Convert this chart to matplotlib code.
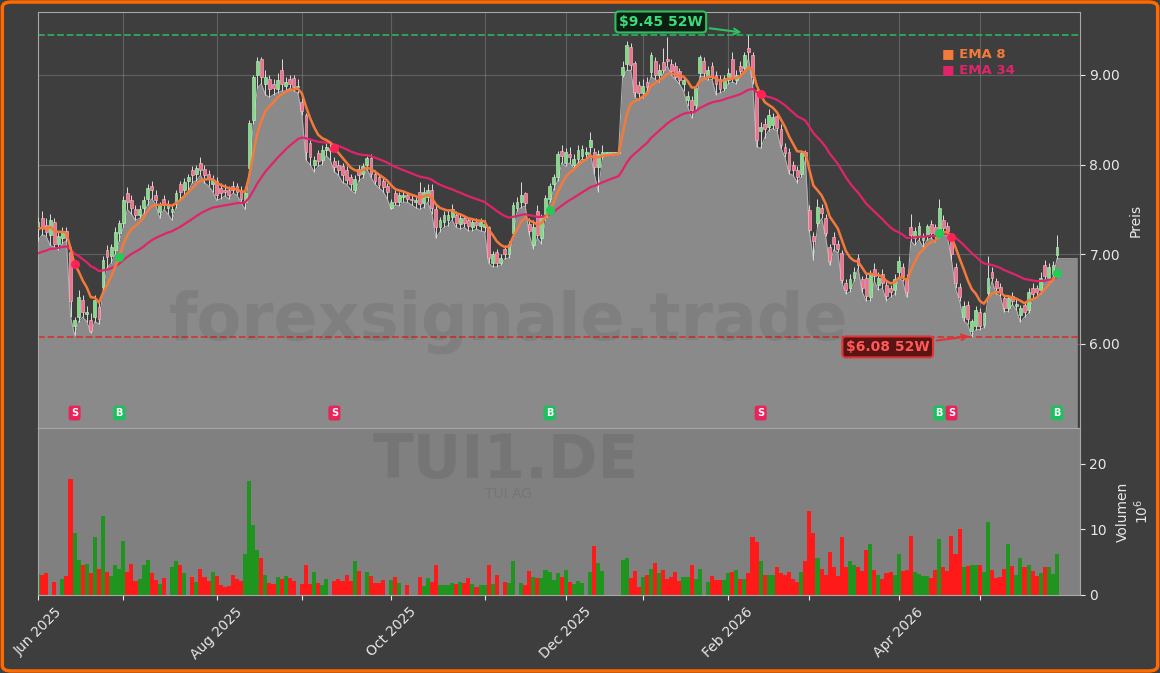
import numpy as np
import matplotlib
matplotlib.use('Agg')
import matplotlib.pyplot as plt
from matplotlib.patches import FancyBboxPatch

# TUI1.DE daily candles, Jun 2025 - May 2026 (bar index = trading day)
opens = [7.28, 7.40, 7.33, 7.22, 7.36, 7.12, 7.18, 7.26, 7.02, 6.20,
         6.30, 6.49, 6.33, 6.27, 6.30, 6.41, 6.64, 7.05, 6.98, 7.05,
         7.24, 7.35, 7.68, 7.60, 7.50, 7.44, 7.52, 7.62, 7.76, 7.66,
         7.47, 7.62, 7.52, 7.47, 7.58, 7.78, 7.72, 7.82, 7.94, 7.90,
         8.02, 7.95, 7.90, 7.78, 7.82, 7.74, 7.72, 7.72, 7.76, 7.76,
         7.72, 7.58, 7.96, 8.50, 9.00, 9.18, 8.90, 8.95, 8.90, 8.84,
         9.05, 8.88, 8.95, 8.97, 8.86, 8.70, 8.55, 8.24, 8.00, 8.13,
         8.05, 8.16, 8.18, 8.04, 8.00, 7.98, 7.94, 7.86, 7.72, 7.95,
         7.90, 8.00, 8.07, 7.90, 7.86, 7.82, 7.76, 7.52, 7.68, 7.58,
         7.64, 7.66, 7.62, 7.58, 7.70, 7.57, 7.64, 7.72, 7.50, 7.30,
         7.36, 7.38, 7.42, 7.44, 7.34, 7.40, 7.38, 7.30, 7.36, 7.32,
         7.30, 7.30, 6.90, 7.02, 6.90, 7.06, 7.00, 7.24, 7.52, 7.58,
         7.68, 7.34, 7.10, 7.48, 7.18, 7.42, 7.62, 7.78, 7.86, 8.15,
         8.02, 8.12, 8.00, 8.06, 8.10, 8.12, 8.20, 8.14, 7.97, 8.10,
         8.13, 8.13, 8.13, 8.13, 9.00, 9.12, 9.31, 9.13, 8.89, 8.80,
         8.92, 9.03, 9.15, 9.00, 9.14, 9.18, 9.12, 9.10, 9.04, 8.90,
         8.72, 8.72, 8.66, 9.02, 9.16, 8.98, 9.10, 9.00, 8.95, 8.85,
         8.94, 9.18, 8.94, 9.10, 9.08, 9.30, 9.22, 8.83, 8.38, 8.45,
         8.42, 8.44, 8.54, 8.40, 8.20, 8.14, 8.00, 7.94, 7.90, 8.14,
         7.49, 7.20, 7.35, 7.52, 7.40, 7.08, 7.19, 7.12, 7.01, 6.68,
         6.62, 6.74, 6.96, 6.72, 6.74, 6.52, 6.84, 6.66, 6.78, 6.66,
         6.62, 6.60, 6.80, 6.86, 6.74, 7.30, 7.18, 7.22, 7.16, 7.22,
         7.34, 7.30, 7.24, 7.38, 7.32, 7.20, 6.86, 6.64, 6.30, 6.44,
         6.14, 6.20, 6.36, 6.21, 6.57, 6.80, 6.70, 6.64, 6.51, 6.40,
         6.54, 6.42, 6.32, 6.44, 6.38, 6.62, 6.62, 6.60, 6.88, 6.74,
         6.78, 6.99]
highs = [7.42, 7.48, 7.40, 7.45, 7.40, 7.25, 7.30, 7.30, 7.08, 6.30,
         6.60, 6.55, 6.42, 6.35, 6.55, 6.48, 6.98, 7.10, 7.12, 7.30,
         7.38, 7.65, 7.75, 7.66, 7.55, 7.55, 7.65, 7.78, 7.82, 7.72,
         7.58, 7.66, 7.60, 7.55, 7.72, 7.82, 7.85, 7.90, 7.98, 8.00,
         8.08, 8.00, 7.94, 7.88, 7.86, 7.80, 7.78, 7.76, 7.82, 7.80,
         7.76, 7.72, 8.50, 9.00, 9.20, 9.20, 9.05, 9.00, 8.95, 9.02,
         9.18, 8.98, 9.00, 9.00, 8.95, 8.75, 8.58, 8.28, 8.10, 8.16,
         8.22, 8.24, 8.25, 8.08, 8.05, 8.02, 7.98, 7.90, 7.88, 8.00,
         8.02, 8.10, 8.12, 7.94, 7.90, 7.85, 7.80, 7.62, 7.72, 7.70,
         7.72, 7.70, 7.66, 7.64, 7.81, 7.75, 7.78, 7.78, 7.55, 7.42,
         7.48, 7.50, 7.56, 7.48, 7.45, 7.44, 7.42, 7.40, 7.40, 7.40,
         7.38, 7.32, 7.04, 7.06, 7.00, 7.10, 7.15, 7.58, 7.64, 7.81,
         7.70, 7.40, 7.38, 7.55, 7.45, 7.66, 7.80, 7.90, 8.15, 8.22,
         8.18, 8.20, 8.12, 8.22, 8.22, 8.20, 8.36, 8.18, 8.16, 8.22,
         8.13, 8.13, 8.13, 8.13, 9.15, 9.38, 9.36, 9.16, 8.93, 8.95,
         8.98, 9.25, 9.20, 9.12, 9.30, 9.42, 9.18, 9.14, 9.08, 8.98,
         8.82, 8.76, 8.88, 9.22, 9.20, 9.10, 9.14, 9.04, 9.00, 9.00,
         9.08, 9.26, 9.05, 9.16, 9.26, 9.45, 9.26, 8.86, 8.48, 8.52,
         8.62, 8.58, 8.58, 8.45, 8.24, 8.18, 8.04, 7.98, 8.16, 8.16,
         7.55, 7.25, 7.62, 7.56, 7.45, 7.12, 7.25, 7.16, 7.05, 6.72,
         6.78, 6.86, 7.00, 6.76, 6.78, 6.82, 6.90, 6.80, 6.84, 6.70,
         6.66, 6.78, 6.98, 6.90, 6.78, 7.45, 7.30, 7.36, 7.24, 7.34,
         7.38, 7.34, 7.62, 7.44, 7.36, 7.24, 6.90, 6.68, 6.48, 6.48,
         6.28, 6.42, 6.40, 6.36, 6.98, 6.86, 6.74, 6.68, 6.55, 6.55,
         6.58, 6.50, 6.44, 6.48, 6.62, 6.68, 6.66, 6.80, 6.94, 6.90,
         6.92, 7.22]
lows = [7.15, 7.22, 7.20, 7.10, 7.08, 7.05, 7.12, 7.15, 6.30, 6.10,
        6.25, 6.30, 6.25, 6.12, 6.25, 6.22, 6.60, 6.85, 6.90, 7.00,
        7.15, 7.30, 7.50, 7.45, 7.38, 7.40, 7.45, 7.55, 7.62, 7.55,
        7.40, 7.50, 7.45, 7.38, 7.52, 7.62, 7.65, 7.70, 7.80, 7.82,
        7.88, 7.80, 7.76, 7.70, 7.60, 7.62, 7.65, 7.62, 7.68, 7.66,
        7.58, 7.50, 7.90, 8.45, 8.85, 8.90, 8.78, 8.75, 8.78, 8.80,
        8.82, 8.82, 8.85, 8.82, 8.80, 8.55, 8.05, 8.00, 7.92, 7.98,
        8.00, 8.10, 8.05, 7.92, 7.88, 7.80, 7.78, 7.72, 7.68, 7.82,
        7.85, 7.95, 7.86, 7.78, 7.74, 7.70, 7.62, 7.50, 7.55, 7.54,
        7.58, 7.58, 7.55, 7.52, 7.50, 7.52, 7.58, 7.45, 7.18, 7.25,
        7.30, 7.32, 7.38, 7.30, 7.28, 7.30, 7.26, 7.26, 7.28, 7.26,
        7.25, 6.90, 6.86, 6.86, 6.88, 6.95, 6.96, 7.20, 7.48, 7.52,
        7.54, 7.22, 7.06, 7.18, 7.12, 7.38, 7.58, 7.72, 7.82, 8.02,
        7.98, 8.02, 7.96, 8.02, 8.06, 8.05, 8.14, 7.90, 7.70, 8.06,
        8.13, 8.13, 8.13, 8.13, 8.98, 9.05, 9.05, 8.75, 8.72, 8.74,
        8.82, 8.98, 8.95, 8.92, 9.02, 9.10, 9.00, 8.95, 8.90, 8.82,
        8.65, 8.52, 8.60, 8.98, 8.98, 8.94, 8.95, 8.78, 8.80, 8.82,
        8.90, 8.92, 8.90, 8.98, 9.04, 9.18, 8.90, 8.20, 8.18, 8.30,
        8.38, 8.40, 8.38, 8.18, 8.08, 7.90, 7.88, 7.80, 7.86, 8.05,
        7.25, 6.94, 7.30, 7.40, 7.20, 6.88, 7.05, 7.02, 6.68, 6.56,
        6.58, 6.70, 6.84, 6.58, 6.48, 6.48, 6.70, 6.60, 6.62, 6.48,
        6.52, 6.55, 6.74, 6.70, 6.52, 7.15, 7.10, 7.16, 7.08, 7.16,
        7.18, 7.14, 7.18, 7.22, 7.20, 6.94, 6.62, 6.48, 6.26, 6.22,
        6.08, 6.16, 6.16, 6.18, 6.52, 6.70, 6.56, 6.54, 6.36, 6.36,
        6.44, 6.38, 6.24, 6.30, 6.34, 6.50, 6.52, 6.56, 6.72, 6.70,
        6.74, 6.95]
closes = [7.36, 7.30, 7.25, 7.38, 7.12, 7.20, 7.26, 7.18, 6.48, 6.27,
          6.52, 6.36, 6.36, 6.14, 6.49, 6.28, 6.94, 6.97, 7.08, 7.25,
          7.35, 7.60, 7.58, 7.52, 7.44, 7.50, 7.60, 7.74, 7.72, 7.60,
          7.55, 7.56, 7.55, 7.50, 7.68, 7.70, 7.81, 7.86, 7.88, 7.96,
          7.94, 7.88, 7.85, 7.84, 7.66, 7.68, 7.70, 7.66, 7.72, 7.70,
          7.62, 7.68, 8.46, 8.98, 9.15, 8.98, 8.98, 8.84, 8.85, 8.94,
          8.90, 8.92, 8.90, 8.86, 8.88, 8.60, 8.14, 8.08, 8.05, 8.04,
          8.16, 8.20, 8.15, 7.97, 7.94, 7.88, 7.83, 7.78, 7.84, 7.88,
          7.98, 8.07, 7.89, 7.82, 7.77, 7.75, 7.70, 7.58, 7.58, 7.66,
          7.66, 7.62, 7.60, 7.60, 7.56, 7.70, 7.72, 7.52, 7.30, 7.38,
          7.44, 7.44, 7.50, 7.35, 7.40, 7.35, 7.32, 7.36, 7.33, 7.36,
          7.34, 6.96, 7.00, 6.90, 6.96, 7.00, 7.12, 7.55, 7.58, 7.66,
          7.57, 7.26, 7.30, 7.22, 7.42, 7.63, 7.76, 7.86, 8.12, 8.10,
          8.14, 8.08, 8.06, 8.16, 8.17, 8.14, 8.27, 7.97, 8.12, 8.14,
          8.13, 8.13, 8.13, 8.13, 9.09, 9.33, 9.11, 8.81, 8.80, 8.88,
          8.86, 9.22, 9.00, 9.06, 9.06, 9.15, 9.04, 8.98, 8.94, 8.94,
          8.76, 8.61, 8.85, 9.20, 9.02, 9.06, 8.98, 8.90, 8.84, 8.96,
          9.02, 8.96, 9.00, 9.04, 9.22, 9.25, 8.98, 8.27, 8.42, 8.40,
          8.55, 8.53, 8.41, 8.22, 8.13, 7.94, 7.94, 7.86, 8.13, 8.10,
          7.27, 7.15, 7.53, 7.46, 7.24, 6.92, 7.12, 7.06, 6.71, 6.60,
          6.72, 6.80, 6.88, 6.62, 6.54, 6.78, 6.76, 6.74, 6.68, 6.54,
          6.58, 6.72, 6.92, 6.76, 6.58, 7.22, 7.26, 7.31, 7.20, 7.31,
          7.24, 7.20, 7.52, 7.29, 7.26, 7.00, 6.68, 6.52, 6.42, 6.28,
          6.26, 6.38, 6.20, 6.34, 6.74, 6.74, 6.62, 6.58, 6.40, 6.51,
          6.48, 6.45, 6.40, 6.36, 6.58, 6.56, 6.58, 6.74, 6.76, 6.86,
          6.88, 7.08]
# volume in millions
volume = [3.2, 3.1, 3.4, 0, 2.0, 0, 2.5, 2.9, 17.6, 9.5,
          5.4, 4.6, 4.7, 3.3, 8.8, 3.9, 12.0, 3.5, 2.9, 4.6,
          4.0, 8.2, 3.5, 4.7, 2.2, 2.5, 4.6, 5.4, 3.4, 2.3,
          1.7, 2.6, 0, 4.3, 5.1, 4.5, 3.4, 0, 2.8, 2.0,
          4.0, 2.8, 2.2, 3.5, 2.9, 1.5, 1.2, 1.4, 3.1, 2.5,
          2.2, 6.3, 17.4, 10.7, 6.8, 5.7, 3.1, 1.8, 1.7, 2.8,
          2.5, 2.9, 2.6, 2.2, 0, 1.7, 4.6, 1.7, 3.5, 1.8,
          1.5, 2.5, 0, 2.2, 2.5, 2.2, 3.1, 2.2, 5.1, 3.6,
          0, 3.5, 2.9, 1.8, 1.9, 2.3, 0, 2.3, 2.8, 1.8,
          0, 1.5, 0, 0, 2.8, 1.4, 2.6, 2.0, 4.6, 1.5,
          1.5, 1.5, 1.8, 1.7, 2.0, 1.8, 2.6, 1.7, 1.2, 1.5,
          1.5, 4.5, 1.7, 3.1, 0, 2.0, 1.8, 5.2, 0, 1.8,
          1.5, 3.6, 2.8, 2.6, 2.6, 3.8, 3.5, 2.3, 3.4, 2.8,
          3.8, 2.0, 1.7, 2.2, 1.8, 0, 3.5, 7.4, 4.9, 3.6,
          0, 0, 0, 0, 5.4, 5.7, 2.6, 3.6, 1.2, 2.8,
          3.1, 4.0, 4.8, 3.4, 3.8, 2.5, 2.8, 3.5, 2.2, 2.8,
          2.8, 4.6, 2.5, 4.0, 0, 2.0, 2.9, 2.3, 2.3, 2.3,
          3.4, 3.5, 3.8, 2.5, 2.5, 3.4, 8.8, 8.0, 5.2, 3.1,
          3.1, 3.1, 4.2, 3.4, 3.1, 3.5, 2.5, 2.0, 3.5, 5.2,
          12.8, 9.5, 5.7, 4.0, 3.1, 6.6, 4.2, 2.9, 8.8, 4.3,
          5.1, 4.6, 4.2, 3.7, 6.9, 7.8, 3.8, 3.1, 2.5, 3.4,
          3.5, 3.1, 6.3, 3.7, 3.8, 8.9, 3.5, 3.2, 2.9, 2.9,
          2.6, 3.8, 8.5, 4.3, 3.7, 8.9, 6.2, 10.0, 4.3, 4.4,
          4.6, 4.6, 4.6, 3.5, 11.1, 3.8, 2.6, 2.7, 4.0, 7.7,
          4.4, 3.1, 5.7, 4.3, 4.6, 3.7, 2.9, 3.4, 4.2, 4.3,
          3.2, 6.2]

# EMA values at the left edge (history before Jun 2025)
ema8_start = 7.27
ema34_start = 6.99

# month ticks (bar index of first trading day)
month_pos = [0, 21, 44, 65, 87, 110, 130, 149, 170, 190, 212, 232]
month_lbl = ['Jun 2025', '', 'Aug 2025', '', 'Oct 2025', '', 'Dec 2025', '',
             'Feb 2026', '', 'Apr 2026', '']

sell_idx = [9, 73, 178, 225]
buy_idx = [20, 126, 222, 251]

high_52w = 9.45
low_52w = 6.08

o = np.array(opens); h = np.array(highs); l = np.array(lows); c = np.array(closes)
v = np.array(volume)
n = len(c)
x = np.arange(n)


def ema(vals, span, start):
    a = 2 / (span + 1)
    out = []
    prev = start
    for val in vals:
        prev = prev + a * (val - prev)
        out.append(prev)
    return np.array(out)


e8 = ema(c, 8, ema8_start)
e34 = ema(c, 34, ema34_start)

bg = '#3e3e3e'
fig = plt.figure(figsize=(11.6, 6.73), dpi=100, facecolor=bg)
ax = fig.add_axes([0.0328, 0.364, 0.898, 0.618])
axv = fig.add_axes([0.0328, 0.1159, 0.898, 0.2481], sharex=ax)

ax.set_facecolor(bg)
axv.set_facecolor('#808080')

y0 = 5.063
xr = 256.6
# area (lows) extended to right edge
ax.fill_between(np.append(x, 256.0), np.append(l, l[-1]), y0,
                color='#8a8a8a', zorder=1, lw=0)
ax.plot(np.append(x, 256.0), np.append(l, l[-1]), color='#b5b5b5', lw=0.7, zorder=1.5)

up = c >= o
ax.vlines(x, l, h, color='#dcdcdc', lw=0.7, zorder=3)
body = np.maximum(np.abs(c - o), 0.012)
ax.bar(x[up], body[up], bottom=np.minimum(o, c)[up], width=0.7,
       color='#7fdc85', edgecolor='#c9f5cc', lw=0.4, zorder=4)
ax.bar(x[~up], body[~up], bottom=np.minimum(o, c)[~up], width=0.7,
       color='#f0708e', edgecolor='#ffc0cc', lw=0.4, zorder=4)

ax.plot(x, e34, color='#e0246c', lw=1.6, zorder=5)
ax.plot(x, e8, color='#f47a3c', lw=1.8, zorder=6)

ax.axhline(high_52w, color='#2fa85c', ls='--', lw=1.3, zorder=2)
ax.axhline(low_52w, color='#cf3a3a', ls='--', lw=1.3, zorder=2)

# signal markers
ax.scatter(sell_idx, e8[sell_idx], s=30, color='#ff2255', zorder=7)
ax.scatter(buy_idx, e8[buy_idx], s=30, color='#22cc55', zorder=7)
for i in sell_idx:
    ax.text(i, 5.23, 'S', color='white', fontsize=7, fontweight='bold',
            ha='center', va='center', zorder=8,
            bbox=dict(boxstyle='round,pad=0.25', fc='#e8245a', ec='none'))
for i in buy_idx:
    ax.text(i, 5.23, 'B', color='white', fontsize=7, fontweight='bold',
            ha='center', va='center', zorder=8,
            bbox=dict(boxstyle='round,pad=0.25', fc='#1fbf5f', ec='none'))

# 52W annotations
ax.annotate('\\$9.45 52W', xy=(174, high_52w + 0.02), xytext=(153.4, 9.59),
            color='#3ddc7a', fontsize=10, fontweight='bold', ha='center', va='center',
            bbox=dict(boxstyle='round,pad=0.25', fc='#0c1f12', ec='#2fbf62', lw=1.5),
            arrowprops=dict(arrowstyle='->', color='#2fbf62', lw=1.5), zorder=9)
ax.annotate('\\$6.08 52W', xy=(230, low_52w + 0.01), xytext=(209.3, 5.967),
            color='#ff5a5a', fontsize=10, fontweight='bold', ha='center', va='center',
            bbox=dict(boxstyle='round,pad=0.25', fc='#5a1414', ec='#e03535', lw=1.5),
            arrowprops=dict(arrowstyle='->', color='#e03535', lw=1.5), zorder=9)

# legend
ax.text(0.868, 0.901, '■ EMA 8', transform=ax.transAxes, color='#f47a3c',
        fontsize=9.5, fontweight='bold', va='center', zorder=9)
ax.text(0.868, 0.861, '■ EMA 34', transform=ax.transAxes, color='#e0246c',
        fontsize=9.5, fontweight='bold', va='center', zorder=9)

# watermarks
fig.text(0.438, 0.522, 'forexsignale.trade', color='black', alpha=0.08,
         fontsize=47, fontweight='bold', ha='center', va='center', zorder=10)
fig.text(0.436, 0.314, 'TUI1.DE', color='black', alpha=0.08,
         fontsize=43, fontweight='bold', ha='center', va='center', zorder=10)
fig.text(0.438, 0.266, 'TUI AG', color='black', alpha=0.08,
         fontsize=10, ha='center', va='center', zorder=10)

ax.set_xlim(0, xr)
ax.set_ylim(y0, 9.70)
ax.set_xticks(month_pos)
ax.tick_params(axis='x', labelbottom=False, length=0)
ax.grid(True, color='white', alpha=0.18, lw=0.8)
ax.set_axisbelow(True)
ax.yaxis.tick_right()
ax.set_yticks([6, 7, 8, 9])
ax.set_yticklabels(['6.00', '7.00', '8.00', '9.00'])
ax.tick_params(axis='y', colors='#e8e8e8', labelsize=10)
ax.yaxis.set_label_position('right')
ax.set_ylabel('Preis', color='#e8e8e8', fontsize=10, labelpad=6)

vcol = np.where(up, '#1f951f', '#ff1a1a')
axv.bar(x, v, width=1.0, color=vcol, lw=0)
axv.set_ylim(0, 25.4)
axv.yaxis.tick_right()
axv.set_yticks([0, 10, 20])
axv.tick_params(axis='y', colors='#e8e8e8', labelsize=10)
axv.yaxis.set_label_position('right')
axv.set_ylabel('Volumen\n$10^6$', color='#e8e8e8', fontsize=10, labelpad=6)
axv.set_xticks(month_pos)
axv.set_xticklabels(month_lbl, rotation=45, ha='center')
axv.tick_params(axis='x', colors='#e8e8e8', labelsize=10)

for a in (ax, axv):
    for s in a.spines.values():
        s.set_color('#a8a8a8')
        s.set_linewidth(0.8)

fig.patches.append(FancyBboxPatch((0.002, 0.003), 0.996, 0.994,
                                  boxstyle='round,pad=0,rounding_size=0.008',
                                  transform=fig.transFigure, fill=False,
                                  ec='#ff6a00', lw=2.5))

fig.savefig('out.png', dpi=100, facecolor=bg)
